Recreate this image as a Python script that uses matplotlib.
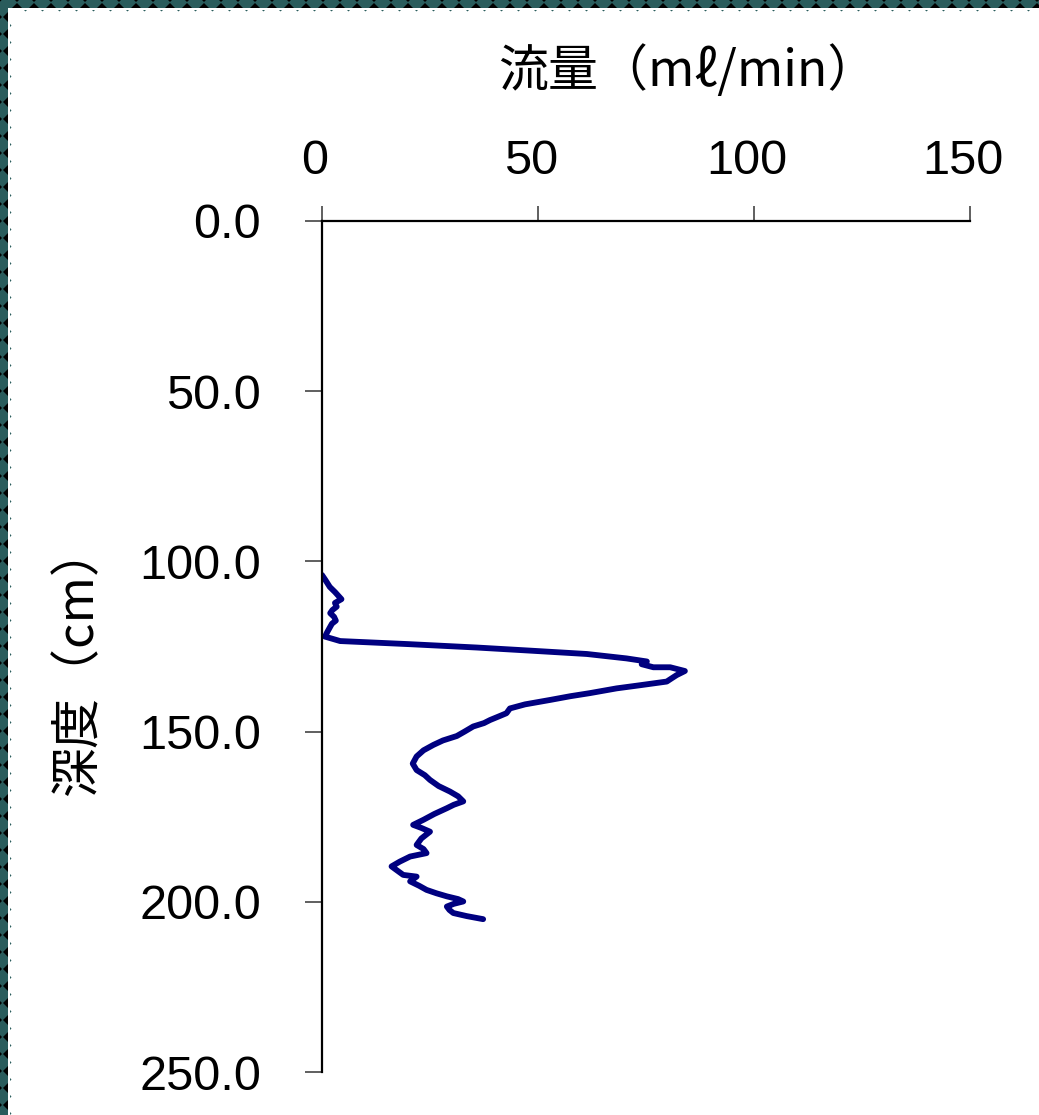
import numpy as np
import matplotlib
matplotlib.use("Agg")
import matplotlib.pyplot as plt
from matplotlib.lines import Line2D
from matplotlib.patches import Rectangle
import matplotlib.transforms as mtransforms

# Flow profile: depth (cm) vs flow rate (ml/min)
depth = [104.0, 105.5, 107.5, 109.0, 111.1, 112.2, 113.3, 114.3, 115.2, 116.3, 117.4, 118.3,
         119.2, 120.8, 122.1, 123.4, 124.3, 125.3, 126.2, 127.2, 128.5, 129.4, 130.2, 131.1,
         131.1, 132.2, 133.4, 134.3, 135.3, 136.4, 137.3, 138.7, 139.6, 140.7, 142.0, 143.2,
         144.6, 145.5, 146.6, 147.5, 148.5, 150.0, 151.3, 152.6, 153.9, 155.5, 157.3, 159.4,
         161.3, 162.8, 164.2, 166.0, 167.6, 169.0, 170.5, 171.5, 172.5, 174.2, 175.9, 177.4,
         178.3, 179.4, 181.4, 183.3, 184.5, 185.7, 186.7, 188.2, 189.6, 190.9, 192.1, 192.6,
         194.0, 195.3, 196.5, 197.5, 198.4, 199.2, 199.9, 200.6, 201.4, 202.4, 203.3, 204.2,
         205.1]
flow = [0.0, 0.8, 1.8, 3.0, 4.5, 3.0, 3.4, 2.4, 1.9, 2.8, 3.2, 2.3,
        1.9, 1.2, 0.7, 4.2, 20.0, 35.8, 48.0, 61.3, 70.5, 75.2, 74.0, 76.7,
        80.6, 84.0, 82.1, 81.0, 79.8, 73.5, 68.2, 62.0, 57.5, 52.8, 47.0, 43.5,
        42.7, 41.0, 38.9, 37.5, 35.0, 33.0, 31.2, 28.0, 25.8, 23.5, 21.9, 21.0,
        21.9, 23.8, 25.0, 27.0, 29.6, 31.5, 32.7, 30.5, 28.9, 26.0, 23.5, 21.1,
        23.0, 25.0, 23.0, 21.9, 23.5, 24.2, 20.4, 18.0, 16.1, 17.5, 18.8, 21.9,
        20.4, 22.5, 24.2, 26.5, 28.9, 31.5, 32.7, 30.5, 28.9, 29.5, 30.4, 33.5,
        37.3]

x_ticks = [0, 50, 100, 150]
y_ticks = [0, 50, 100, 150, 200, 250]
x_label = "流量（mℓ/min）"
y_label = "深度（cm）"

W, H, DPI = 1039, 1115, 100
fig = plt.figure(figsize=(W / DPI, H / DPI), dpi=DPI)
fig.patch.set_facecolor("white")

# Plot area in pixel coordinates
left_px, right_px = 322, 970
top_px, bottom_px = 221, 1072
ax = fig.add_axes([left_px / W, 1 - bottom_px / H,
                   (right_px - left_px) / W, (bottom_px - top_px) / H])

ax.plot(flow, depth, color="#000080", linewidth=4.2, solid_joinstyle="round",
        solid_capstyle="round")

ax.set_xlim(0, 150)
ax.set_ylim(250, 0)
ax.xaxis.tick_top()
ax.set_xticks(x_ticks)
ax.set_yticks(y_ticks)
ax.set_xticklabels([str(v) for v in x_ticks])
ax.set_yticklabels([f"{v:.1f}" for v in y_ticks])

for s in ("right", "bottom"):
    ax.spines[s].set_visible(False)
for s in ("left", "top"):
    ax.spines[s].set_linewidth(1.6)
    ax.spines[s].set_color("black")

tick_font = dict(family=["Liberation Sans", "DejaVu Sans"], size=35)
ax.tick_params(axis="x", direction="out", length=11, width=1.2, color="#444444",
               pad=16, top=True, bottom=False, labeltop=True, labelbottom=False)
ax.tick_params(axis="y", direction="out", length=12, width=1.2, color="#444444",
               pad=32)
for lab in ax.get_xticklabels():
    lab.set_fontproperties(matplotlib.font_manager.FontProperties(**tick_font))
    lab.set_transform(lab.get_transform() +
                      mtransforms.ScaledTranslation(-7 / DPI, 0, fig.dpi_scale_trans))
for lab in ax.get_yticklabels():
    lab.set_fontproperties(matplotlib.font_manager.FontProperties(**tick_font))

cjk = ["Noto Sans CJK JP", "DejaVu Sans"]
fig.text(688 / W, 1 - 72 / H, x_label, ha="center", va="center",
         family=cjk, fontsize=36)
fig.text(78 / W, 1 - 660 / H, y_label, ha="center", va="center",
         rotation=90, family=cjk, fontsize=36)

# Decorative patterned frame along the top and left edges
band = 8
teal = "#2a5c5c"
fig.patches.append(Rectangle((0, 1 - band / H), 1, band / H, transform=fig.transFigure,
                             facecolor="black", edgecolor="none", zorder=10))
fig.patches.append(Rectangle((0, 0), band / W, 1, transform=fig.transFigure,
                             facecolor="black", edgecolor="none", zorder=10))
step = 17
xs = np.arange(8, W + step, step)
fig.lines.append(Line2D(xs / W, np.full(len(xs), 1 - 2 / H), transform=fig.transFigure,
                        linestyle="none", marker="D", markersize=9,
                        markerfacecolor=teal, markeredgecolor="none", zorder=11))
ys = np.arange(8, H + step, step)
fig.lines.append(Line2D(np.full(len(ys), 2 / W), 1 - ys / H, transform=fig.transFigure,
                        linestyle="none", marker="D", markersize=9,
                        markerfacecolor=teal, markeredgecolor="none", zorder=11))
# keep the frame within its band
fig.patches.append(Rectangle((band / W, 0), 2 / W, 1 - band / H, transform=fig.transFigure,
                             facecolor="white", edgecolor="none", zorder=12))
fig.patches.append(Rectangle((band / W, 1 - (band + 2) / H), 1, 2 / H,
                             transform=fig.transFigure,
                             facecolor="white", edgecolor="none", zorder=12))

fig.savefig("out.png", dpi=DPI, facecolor="white")
